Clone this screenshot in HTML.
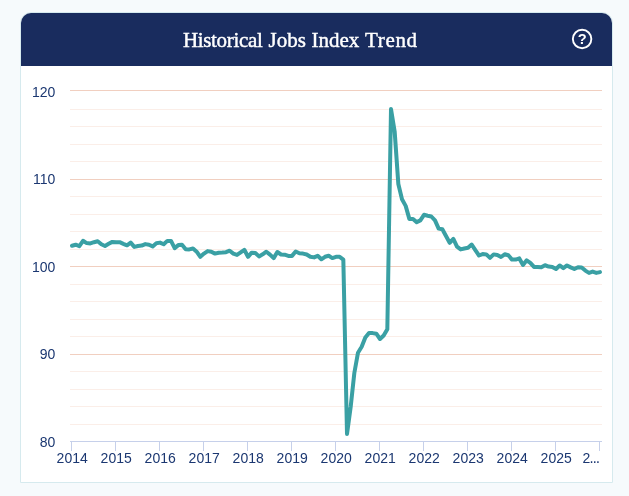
<!DOCTYPE html>
<html lang="en">
<head>
<meta charset="utf-8">
<title>Historical Jobs Index Trend</title>
<style>
html,body{margin:0;padding:0;}
body{width:629px;height:496px;background:#f6fafc;position:relative;overflow:hidden;font-family:"Liberation Sans",sans-serif;}
.card{position:absolute;left:20px;top:12px;width:591px;height:469px;border:1px solid #d6eaee;border-radius:11px 11px 0 0;background:#fff;overflow:hidden;}
.head{position:absolute;left:0;top:0;width:591px;height:53px;background:#192c5e;}
.title{position:absolute;left:0;top:1px;width:591px;height:53px;line-height:53px;color:#fff;font-family:"Liberation Serif",serif;font-size:21px;-webkit-text-stroke:0.42px #fff;white-space:nowrap;}
.title span{position:absolute;top:0;}
svg{position:absolute;left:0;top:0;}
svg text{font-family:"Liberation Sans",sans-serif;font-size:14px;fill:#1b3771;}
</style>
</head>
<body>
<div class="card">
  <div class="head"><div class="title" id="title"><span style="left:161.9px;letter-spacing:-0.33px">Historical</span> <span style="left:247.6px">Jobs</span> <span style="left:290.5px">Index</span> <span style="left:344px;letter-spacing:0.67px">Trend</span></div></div>
</div>
<svg width="629" height="496" viewBox="0 0 629 496">
<circle cx="582.1" cy="39" r="9.25" fill="none" stroke="#fff" stroke-width="1.9"/>
<text x="582.3" y="43.8" text-anchor="middle" style="font-size:14.6px;font-weight:bold;fill:#fff">?</text>
<rect x="70" y="109" width="532" height="1" fill="#fbeee8"/>
<rect x="70" y="126" width="532" height="1" fill="#fbeee8"/>
<rect x="70" y="144" width="532" height="1" fill="#fbeee8"/>
<rect x="70" y="161" width="532" height="1" fill="#fbeee8"/>
<rect x="70" y="196" width="532" height="1" fill="#fbeee8"/>
<rect x="70" y="214" width="532" height="1" fill="#fbeee8"/>
<rect x="70" y="231" width="532" height="1" fill="#fbeee8"/>
<rect x="70" y="249" width="532" height="1" fill="#fbeee8"/>
<rect x="70" y="284" width="532" height="1" fill="#fbeee8"/>
<rect x="70" y="301" width="532" height="1" fill="#fbeee8"/>
<rect x="70" y="319" width="532" height="1" fill="#fbeee8"/>
<rect x="70" y="336" width="532" height="1" fill="#fbeee8"/>
<rect x="70" y="371" width="532" height="1" fill="#fbeee8"/>
<rect x="70" y="389" width="532" height="1" fill="#fbeee8"/>
<rect x="70" y="406" width="532" height="1" fill="#fbeee8"/>
<rect x="70" y="424" width="532" height="1" fill="#fbeee8"/>
<rect x="70" y="90" width="532" height="1" fill="#f1cfc0"/>
<rect x="70" y="179" width="532" height="1" fill="#f1cfc0"/>
<rect x="70" y="266" width="532" height="1" fill="#f1cfc0"/>
<rect x="70" y="354" width="532" height="1" fill="#f1cfc0"/>
<rect x="70" y="441" width="532" height="1" fill="#c6d0ea"/>
<rect x="71" y="441" width="1" height="10" fill="#c6d0ea"/>
<rect x="115" y="441" width="1" height="10" fill="#c6d0ea"/>
<rect x="159" y="441" width="1" height="10" fill="#c6d0ea"/>
<rect x="203" y="441" width="1" height="10" fill="#c6d0ea"/>
<rect x="247" y="441" width="1" height="10" fill="#c6d0ea"/>
<rect x="291" y="441" width="1" height="10" fill="#c6d0ea"/>
<rect x="335" y="441" width="1" height="10" fill="#c6d0ea"/>
<rect x="379" y="441" width="1" height="10" fill="#c6d0ea"/>
<rect x="423" y="441" width="1" height="10" fill="#c6d0ea"/>
<rect x="467" y="441" width="1" height="10" fill="#c6d0ea"/>
<rect x="511" y="441" width="1" height="10" fill="#c6d0ea"/>
<rect x="555" y="441" width="1" height="10" fill="#c6d0ea"/>
<rect x="599" y="441" width="1" height="10" fill="#c6d0ea"/>
<text x="72.2" y="463" text-anchor="middle">2014</text>
<text x="116.2" y="463" text-anchor="middle">2015</text>
<text x="160.2" y="463" text-anchor="middle">2016</text>
<text x="204.2" y="463" text-anchor="middle">2017</text>
<text x="248.2" y="463" text-anchor="middle">2018</text>
<text x="292.2" y="463" text-anchor="middle">2019</text>
<text x="336.2" y="463" text-anchor="middle">2020</text>
<text x="380.2" y="463" text-anchor="middle">2021</text>
<text x="424.2" y="463" text-anchor="middle">2022</text>
<text x="468.2" y="463" text-anchor="middle">2023</text>
<text x="512.2" y="463" text-anchor="middle">2024</text>
<text x="556.2" y="463" text-anchor="middle">2025</text>
<text x="582.5" y="463">2<tspan dx="-0.6" style="font-size:10px;font-weight:bold">…</tspan></text>
<text x="55.3" y="97.2" text-anchor="end">120</text>
<text x="55.3" y="184.2" text-anchor="end">110</text>
<text x="55.3" y="272.2" text-anchor="end">100</text>
<text x="55.3" y="359.2" text-anchor="end">90</text>
<text x="55.3" y="447.2" text-anchor="end">80</text>
<polyline fill="none" stroke="#3aa0a4" stroke-width="4" stroke-linejoin="round" stroke-linecap="round" points="72.00,245.70 75.67,244.70 79.33,246.10 83.00,240.80 86.67,243.10 90.33,243.40 94.00,242.20 97.67,241.20 101.33,244.30 105.00,246.00 108.67,243.80 112.33,241.90 116.00,242.20 119.67,242.20 123.33,243.80 127.00,245.30 130.67,242.60 134.33,246.90 138.00,246.00 141.67,245.60 145.33,244.10 149.00,244.70 152.67,246.40 156.33,243.20 160.00,242.60 163.67,244.30 167.33,240.90 171.00,240.90 174.67,248.10 178.33,245.10 182.00,244.70 185.67,249.20 189.33,249.40 193.00,248.50 196.67,251.70 200.33,256.80 204.00,253.60 207.67,251.10 211.33,251.70 215.00,253.60 218.67,252.70 222.33,252.50 226.00,252.20 229.67,250.70 233.33,253.60 237.00,254.90 240.67,252.30 244.33,249.80 248.00,256.80 251.67,252.70 255.33,253.00 259.00,256.40 262.67,254.30 266.33,251.70 270.00,254.60 273.67,258.10 277.33,252.00 281.00,254.50 284.67,254.70 288.33,255.90 292.00,255.90 295.67,251.50 299.33,253.20 303.00,253.60 306.67,254.50 310.33,256.80 314.00,257.40 317.67,255.80 321.33,259.30 325.00,256.80 328.67,255.80 332.33,258.10 336.00,256.80 339.67,256.80 343.33,259.60 347.00,434.00 350.67,407.00 354.33,373.00 358.00,352.70 361.67,346.80 365.33,337.60 369.00,333.10 372.67,333.10 376.33,333.70 380.00,339.00 383.67,335.50 387.33,329.20 391.00,109.00 394.67,131.50 398.33,184.00 402.00,199.30 405.67,205.90 409.33,218.90 413.00,219.00 416.67,222.10 420.33,220.40 424.00,214.80 427.67,215.70 431.33,216.50 435.00,220.40 438.67,228.60 442.33,229.30 446.00,236.00 449.67,242.80 453.33,238.90 457.00,246.60 460.67,249.40 464.33,248.50 468.00,247.75 471.67,244.50 475.33,250.15 479.00,255.50 482.67,254.10 486.33,254.40 490.00,257.90 493.67,254.40 497.33,255.00 501.00,257.00 504.67,254.30 508.33,255.30 512.00,259.60 515.67,259.60 519.33,258.40 523.00,264.90 526.67,260.30 530.33,262.80 534.00,266.90 537.67,267.00 541.33,267.25 545.00,265.25 548.67,266.55 552.33,267.00 556.00,269.05 559.67,265.45 563.33,268.15 567.00,265.45 570.67,267.35 574.33,269.05 578.00,267.20 581.67,267.40 585.33,270.60 589.00,272.90 592.67,271.60 596.33,272.90 600.00,272.10"/>
</svg>
</body>
</html>
